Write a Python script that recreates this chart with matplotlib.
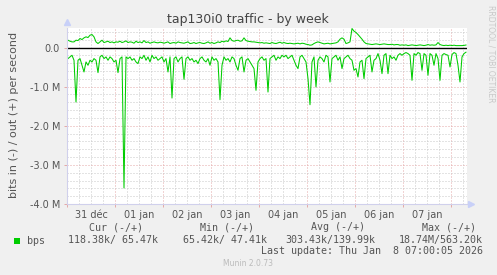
import matplotlib.pyplot as plt
import matplotlib.dates as mdates
from matplotlib.ticker import MultipleLocator, FuncFormatter
from matplotlib.patches import Rectangle
import numpy as np
import pandas as pd

# hourly samples, kbit/s, starting 31 dec 00:30
in_k = [282, 239, 197, 325, 1393, 325, 282, 453, 624, 368,
        453, 325, 368, 282, 325, 641, 239, 197, 282, 239,
        325, 239, 282, 368, 325, 641, 282, 239, 3590, 239,
        282, 239, 325, 282, 368, 410, 239, 282, 197, 325,
        239, 368, 197, 282, 239, 325, 282, 239, 368, 282,
        624, 239, 1291, 282, 239, 368, 282, 239, 812, 282,
        239, 325, 282, 368, 325, 410, 282, 239, 325, 368,
        282, 453, 239, 325, 282, 368, 1333, 453, 239, 325,
        282, 368, 239, 282, 453, 581, 282, 239, 624, 325,
        282, 368, 453, 538, 1094, 368, 282, 239, 325, 282,
        1137, 282, 239, 197, 325, 239, 282, 197, 239, 197,
        282, 239, 197, 325, 453, 538, 239, 197, 282, 368,
        795, 1462, 368, 239, 1009, 325, 239, 282, 368, 197,
        239, 880, 282, 239, 197, 325, 239, 538, 282, 239,
        197, 282, 325, 581, 538, 752, 368, 325, 795, 282,
        239, 197, 624, 325, 282, 154, 325, 667, 197, 154,
        667, 197, 282, 239, 325, 197, 154, 197, 154, 128,
        154, 197, 838, 154, 197, 128, 154, 581, 154, 197,
        709, 154, 197, 453, 154, 282, 838, 197, 154, 179,
        197, 496, 179, 128, 154, 453, 880, 239, 154, 118]

out_k = [188, 162, 145, 145, 188, 179, 231, 205, 248, 274,
         256, 316, 333, 274, 145, 103, 145, 188, 128, 145,
         162, 128, 145, 120, 145, 137, 162, 128, 145, 171,
         128, 145, 137, 111, 162, 128, 145, 120, 179, 128,
         145, 111, 128, 145, 128, 120, 137, 128, 111, 128,
         145, 103, 120, 128, 111, 145, 128, 120, 111, 128,
         145, 103, 111, 128, 103, 120, 128, 111, 103, 120,
         145, 111, 128, 103, 120, 145, 128, 162, 145, 171,
         154, 248, 179, 162, 179, 188, 162, 171, 248, 179,
         162, 154, 145, 145, 137, 128, 120, 128, 111, 120,
         111, 103, 128, 111, 103, 120, 137, 111, 128, 111,
         103, 111, 103, 94, 103, 111, 94, 111, 103, 85,
         77, 60, 68, 103, 128, 145, 128, 111, 94, 103,
         111, 94, 103, 111, 120, 145, 214, 248, 214, 103,
         120, 145, 487, 420, 385, 333, 274, 214, 145, 103,
         94, 85, 77, 85, 94, 85, 77, 85, 94, 85,
         77, 77, 85, 68, 77, 77, 60, 68, 60, 68,
         51, 60, 68, 60, 51, 60, 68, 60, 51, 60,
         77, 60, 68, 60, 68, 128, 77, 60, 51, 60,
         51, 60, 51, 60, 50, 51, 50, 50, 55, 65]

day_labels = ['31 déc', '01 jan', '02 jan', '03 jan', '04 jan', '05 jan', '06 jan', '07 jan', '08 jan']
ytick_vals = [0, -1e6, -2e6, -3e6, -4e6]
ytick_labels = ['0.0', '-1.0 M', '-2.0 M', '-3.0 M', '-4.0 M']

headers = ['Cur (-/+)', 'Min (-/+)', 'Avg (-/+)', 'Max (-/+)']
values = ['118.38k/ 65.47k', '65.42k/ 47.41k', '303.43k/139.99k', '18.74M/563.20k']

start = pd.Timestamp('2025-12-31 00:00')
end = pd.Timestamp('2026-01-08 08:00')
times = pd.date_range('2025-12-31 00:30', periods=len(in_k), freq='h')

W, H = 497, 275
def fx(x): return x / W
def fy(y): return 1 - y / H

txt = '#555555'
fig = plt.figure(figsize=(W / 100, H / 100), dpi=100, facecolor='#F0F0F0')
ax = fig.add_axes([fx(67), fy(204), 400 / W, 176 / H])
ax.set_facecolor('white')
ax.set_axisbelow(True)

ax.plot(times, np.array(out_k) * 1000, color='#00CC00', lw=0.75)
ax.plot(times, -np.array(in_k) * 1000, color='#00CC00', lw=0.75)
ax.axhline(0, color='black', lw=1)

ax.set_xlim(start, end)
ax.set_ylim(-4e6, 0.5e6)

# x: red grid at midnight, grey every 6h, labels at noon
ax.xaxis.set_major_locator(mdates.DayLocator())
ax.xaxis.set_major_formatter(FuncFormatter(lambda v, p: ''))
ax.xaxis.set_minor_locator(mdates.HourLocator(byhour=[6, 12, 18]))
s0 = mdates.date2num(start)
def day_fmt(v, pos):
    h = int(round((v - s0) * 24))
    if h % 24 == 12:
        return day_labels[h // 24]
    return ''
ax.xaxis.set_minor_formatter(FuncFormatter(day_fmt))

ax.set_yticks(ytick_vals)
ax.set_yticklabels(ytick_labels)
ax.yaxis.set_minor_locator(MultipleLocator(2e5))

ax.tick_params(which='major', length=2, width=0.7, color='#E4A8A8', labelsize=7, labelcolor=txt, pad=3)
ax.tick_params(which='minor', length=0, labelsize=7, labelcolor=txt, pad=4)

ax.grid(which='minor', color='#C8C8C8', linestyle=(0, (1, 2)), lw=0.72)
ax.grid(which='major', color='#E4A8A8', linestyle=(0, (1, 2)), lw=0.72)

for s in ['top', 'right']:
    ax.spines[s].set_visible(False)
for s in ['left', 'bottom']:
    ax.spines[s].set_color('#D0D0EC')
    ax.spines[s].set_linewidth(0.8)

# axis arrows
ax.plot([0], [1.034], marker='^', ms=4, color='#C8D0F8', transform=ax.transAxes, clip_on=False)
ax.plot([1.011], [0], marker='>', ms=4, color='#C8D0F8', transform=ax.transAxes, clip_on=False)

fig.text(fx(248), fy(19.5), 'tap130i0 traffic - by week', ha='center', va='center', fontsize=9, color='#444444')
fig.text(fx(14), fy(115), 'bits in (-) / out (+) per second', rotation=90, ha='center', va='center',
         fontsize=8, color=txt)
fig.text(fx(490.5), fy(5), 'RRDTOOL / TOBI OETIKER', rotation=270, ha='center', va='top',
         fontsize=5.5, color='#C8C8C8')

# legend block
mono = 'DejaVu Sans Mono'
hdr_right = [143, 254, 365, 476]
val_right = [158, 267, 375, 483]
for hx, h in zip(hdr_right, headers):
    fig.text(fx(hx), fy(227.5), h, ha='right', va='center', family=mono, fontsize=7.2, color=txt)
for vx, v in zip(val_right, values):
    fig.text(fx(vx), fy(240.5), v, ha='right', va='center', family=mono, fontsize=7.2, color=txt)
fig.patches.append(Rectangle((fx(14), fy(244)), 6 / W, 6 / H, transform=fig.transFigure,
                             facecolor='#00CC00', edgecolor='none'))
fig.text(fx(27), fy(240.5), 'bps', ha='left', va='center', family=mono, fontsize=7.2, color=txt)
fig.text(fx(483), fy(251.5), 'Last update: Thu Jan  8 07:00:05 2026', ha='right', va='center',
         family=mono, fontsize=7.2, color=txt)
fig.text(fx(248), fy(264), 'Munin 2.0.73', ha='center', va='center', fontsize=5.5, color='#BBBBBB')

fig.savefig('out.png', dpi=100, facecolor=fig.get_facecolor())
